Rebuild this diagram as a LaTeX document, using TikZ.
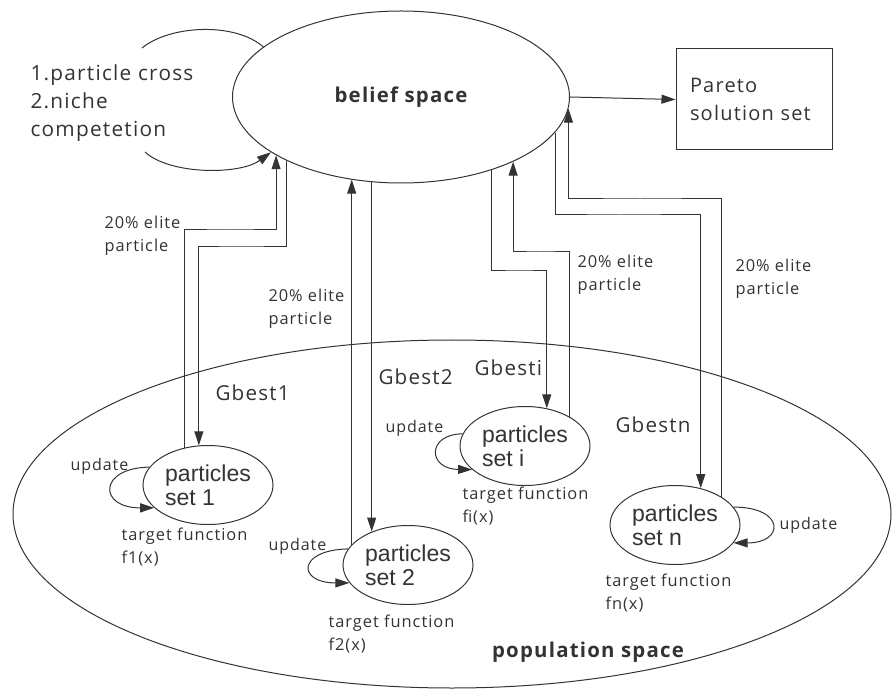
\documentclass[tikz,border=0pt]{standalone}
\usepackage{fontspec}
\setmainfont[LetterSpace=6]{Open Sans}
\newfontfamily\arialfont{Liberation Sans}
\usetikzlibrary{arrows.meta,shapes.geometric}
\definecolor{ink}{HTML}{333333}
\begin{document}
\begin{tikzpicture}[x=0.5pt,y=-0.5pt,line width=.5pt,color=ink,
	arr/.style={-{Triangle[length=7pt,width=4.5pt]}},
	pset/.style={ellipse,draw,minimum width=65pt,minimum height=39.5pt,inner sep=0pt,align=left,font=\arialfont\fontsize{11.5}{12}\selectfont},
	lbl/.style={anchor=west,align=left,inner sep=0pt,font=\fontsize{8.2}{11.5}\selectfont},
	upd/.style={anchor=west,inner sep=0pt,font=\fontsize{8}{10}\selectfont},
	gbest/.style={anchor=west,inner sep=0pt,font=\fontsize{10.3}{12}\selectfont}]
	\useasboundingbox (0,0) rectangle (893,689);
	% spaces
	\node[ellipse,draw,minimum width=439pt,minimum height=174pt] (pop) at (452,514) {};
	\node[anchor=center,font=\bfseries\fontsize{10.2}{12}\selectfont] (popname) at (588,652) {population space};
	\node[ellipse,draw,minimum width=168.5pt,minimum height=86pt,font=\bfseries\fontsize{10.2}{12}\selectfont] (belief) at (401,97) {belief space};
	\node[draw,text width=64pt,inner xsep=7pt,minimum height=50.5pt,align=left,font=\fontsize{10}{14}\selectfont] (pareto) at (754,99.5) {Pareto\\solution set};
	\draw[arr] (belief.east) -- (pareto.west);
	% cross and competition loop
	\coordinate (cr1) at (142,48);
	\coordinate (cr2) at (145,152);
	\draw (cr1) .. controls (170,25) and (235,22) .. (belief.160.45);
	\draw[arr] (cr2) .. controls (170,175) and (240,175) .. (belief.203.1);
	\node[anchor=west,align=left,inner sep=0pt,font=\fontsize{10.4}{14}\selectfont] (ops) at (30,103) {1.particle cross\\2.niche\\competetion};
	% particle sets
	\node[pset] (s1) at (208,485) {particles\\set 1};
	\node[pset] (s2) at (408,565) {particles\\set 2};
	\node[pset] (si) at (525,446) {particles\\set i};
	\node[pset] (sn) at (675,525) {particles\\set n};
	% exchange with belief space
	\coordinate (e1) at (230,230);
	\coordinate (g1) at (240,247);
	\coordinate (gi) at (520,271);
	\coordinate (ei) at (540,252);
	\coordinate (gn) at (620,215);
	\coordinate (en) at (640,199);
	\draw[arr] (s1.122.2) |- (e1) -| (belief.205.1);
	\draw[arr] (belief.209.4) |- (g1) -| (s1.103.1);
	\draw[arr] (s2.160.1) -- (s2.160.1 |- belief.239.2);
	\draw[arr] (belief.251.1) -- (belief.251.1 |- s2.137.2);
	\draw[arr] (belief.-39.8) |- (gi) -| (si.60.4);
	\draw[arr] (si.33.1) |- (ei) -| (belief.-30.6);
	\draw[arr] (belief.-13.1) |- (gn) -| (sn.55.9);
	\draw[arr] (sn.31.6) |- (en) -| (belief.-4.6);
	\node[lbl] (el1) at (104,236) {20\% elite\\particle};
	\node[lbl] (el2) at (268,309) {20\% elite\\particle};
	\node[lbl] (eli) at (577,275) {20\% elite\\particle};
	\node[lbl] (eln) at (735,279) {20\% elite\\particle};
	\node[gbest] (gb1) at (215,393) {Gbest1};
	\node[gbest] (gb2) at (378,377) {Gbest2};
	\node[gbest] (gbi) at (474,368) {Gbesti};
	\node[gbest] (gbn) at (615,425) {Gbestn};
	% update loops
	\draw[arr] (s1.163.1) .. controls (98,468) and (98,508) .. (s1.203.1);
	\draw[arr] (s2.165.6) .. controls (297,550) and (297,583) .. (s2.197.3);
	\draw[arr] (si.169.3) .. controls (427,434) and (427,469) .. (si.204.2);
	\draw[arr] (sn.17.3) .. controls (785,507) and (785,543) .. (sn.-17.3);
	\node[upd] (up1) at (70,466) {update};
	\node[upd] (up2) at (268,546) {update};
	\node[upd] (upi) at (385,428) {update};
	\node[upd] (upn) at (779,525) {update};
	\node[lbl] (tf1) at (121,547) {target function\\f1(x)};
	\node[lbl] (tf2) at (328,634) {target function\\f2(x)};
	\node[lbl] (tfi) at (462,506) {target function\\fi(x)};
	\node[lbl] (tfn) at (605,593) {target function\\fn(x)};
\end{tikzpicture}
\end{document}
